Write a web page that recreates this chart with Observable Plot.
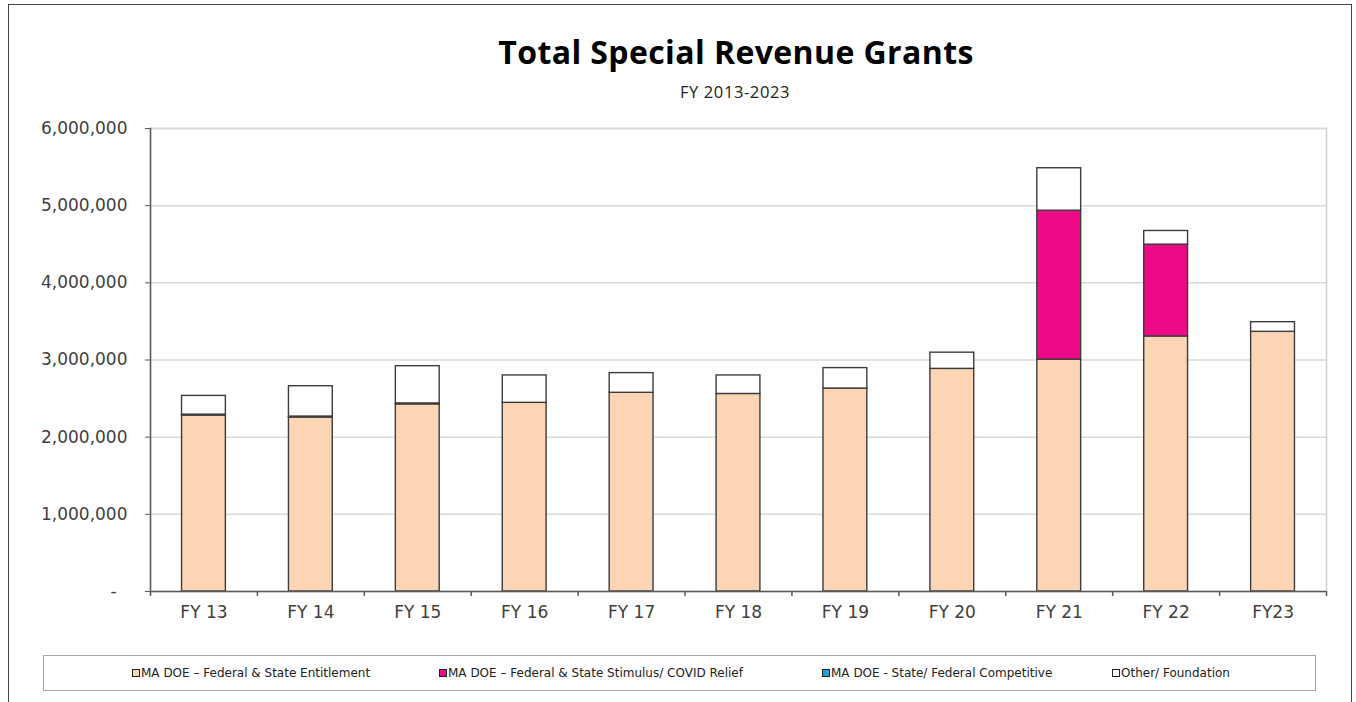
<!DOCTYPE html>
<html>
<head>
<meta charset="utf-8">
<script src="https://cdn.jsdelivr.net/npm/d3@7"></script>
<script src="https://cdn.jsdelivr.net/npm/@observablehq/plot@0.6"></script>
<style>
  html, body { margin: 0; padding: 0; background: #fff; }
  #page { position: relative; width: 1356px; height: 702px; overflow: hidden; background: #fff; }
  #frame { position: absolute; left: 8px; top: 4px; width: 1344px; height: 760px; border: 1.5px solid #444; box-sizing: border-box; }
  #title { position: absolute; left: 0; width: 1472px; top: 31px; text-align: center; font-family: "Open Sans", sans-serif; font-weight: 700; font-size: 32px; letter-spacing: 0.4px; line-height: 42px; color: #000; }
  #subtitle { position: absolute; left: 0; width: 1470px; top: 82px; text-align: center; font-family: "Open Sans", sans-serif; font-size: 16.5px; letter-spacing: 0.6px; line-height: 20px; color: #222; }
  #chart { position: absolute; left: 0; top: 110px; }
  #legend { position: absolute; left: 43px; top: 655px; width: 1273px; height: 36px; border: 1px solid #a6a6a6; box-sizing: border-box; }
  .item { position: absolute; top: 0; height: 34px; line-height: 34px; font-family: "DejaVu Sans", sans-serif; font-size: 12px; color: #222; white-space: nowrap; }
  .sw { display: inline-block; width: 6px; height: 6px; border: 1px solid #222; margin-right: 1px; vertical-align: 0px; }
</style>
</head>
<body>
<div id="page">
  <div id="frame"></div>
  <div id="title">Total Special Revenue Grants</div>
  <div id="subtitle">FY 2013-2023</div>
  <div id="chart"></div>
  <div id="legend"></div>
</div>
<script>
// ---- data ----
const categories = ["FY 13", "FY 14", "FY 15", "FY 16", "FY 17", "FY 18", "FY 19", "FY 20", "FY 21", "FY 22", "FY23"];
const seriesNames = [
  "MA DOE \u2013 Federal & State Entitlement",
  "MA DOE \u2013 Federal & State Stimulus/ COVID Relief",
  "MA DOE - State/ Federal Competitive",
  "Other/ Foundation"
];
const entitlement = [2280000, 2255000, 2425000, 2445000, 2575000, 2560000, 2630000, 2885000, 3005000, 3305000, 3365000];
const stimulus    = [0, 0, 0, 0, 0, 0, 0, 0, 1930000, 1190000, 0];
const competitive = [12000, 12000, 12000, 0, 0, 0, 0, 0, 0, 0, 0];
const other       = [243000, 393000, 483000, 355000, 255000, 240000, 265000, 210000, 550000, 177000, 125000];
const seriesColors = ["#fcd5b5", "#ee0a86", "#1aa0d8", "#ffffff"];
const yTicks = [0, 1000000, 2000000, 3000000, 4000000, 5000000, 6000000];
const gridTicks = [1000000, 2000000, 3000000, 4000000, 5000000, 6000000];

const seriesValues = [entitlement, stimulus, competitive, other];
const rows = [];
seriesNames.forEach((s, si) => {
  categories.forEach((c, ci) => rows.push({cat: c, series: s, value: seriesValues[si][ci]}));
});

// ---- layout ----
const W = 1356, H = 530;
const mL = 150, mR = 30, mT = 18, mB = 49;
const step = (W - mL - mR) / categories.length;

const chart = Plot.plot({
  width: W, height: H,
  marginLeft: mL, marginRight: mR, marginTop: mT, marginBottom: mB,
  style: {fontFamily: "DejaVu Sans, sans-serif", fontSize: "17px", color: "#404040", background: "transparent"},
  x: {domain: categories, paddingInner: 0.59, paddingOuter: 0.295, round: false, axis: null},
  y: {domain: [0, 6000000], axis: null},
  color: {domain: seriesNames, range: seriesColors},
  marks: [
    Plot.frame({stroke: "#d0d0d0", strokeWidth: 1.5}),
    Plot.ruleY(gridTicks, {stroke: "#d9d9d9", strokeWidth: 1.5}),
    Plot.barY(rows, {x: "cat", y: "value", fill: "series", stroke: "#3c3c3c", strokeWidth: 1.4}),
    Plot.ruleY([0], {stroke: "#5a5a5a", strokeWidth: 1.5}),
    Plot.frame({anchor: "left", stroke: "#5a5a5a", strokeWidth: 1.5}),
    Plot.ruleX(categories, {x: d => d, y1: 0, y2: -65000, dx: -step / 2, stroke: "#5a5a5a", strokeWidth: 1.5}),
    Plot.ruleX([categories[categories.length - 1]], {x: d => d, y1: 0, y2: -65000, dx: step / 2, stroke: "#5a5a5a", strokeWidth: 1.5}),
    Plot.axisY(yTicks, {
      label: null, tickSize: 5, tickPadding: 18, fontSize: 17, stroke: "#5a5a5a",
      tickFormat: d => d === 0 ? "-\u00a0\u00a0" : d3.format(",")(d)
    }),
    Plot.axisX({label: null, tickSize: 0, tickPadding: 14, fontSize: 17})
  ]
});
document.getElementById("chart").appendChild(chart);

// ---- legend ----
const legend = document.getElementById("legend");
const legendLeft = [88, 395, 778, 1068];
seriesNames.forEach((s, i) => {
  const it = document.createElement("div");
  it.className = "item";
  it.style.left = legendLeft[i] + "px";
  const sw = document.createElement("span");
  sw.className = "sw";
  sw.style.background = seriesColors[i];
  it.appendChild(sw);
  it.appendChild(document.createTextNode(s));
  legend.appendChild(it);
});
</script>
</body>
</html>
